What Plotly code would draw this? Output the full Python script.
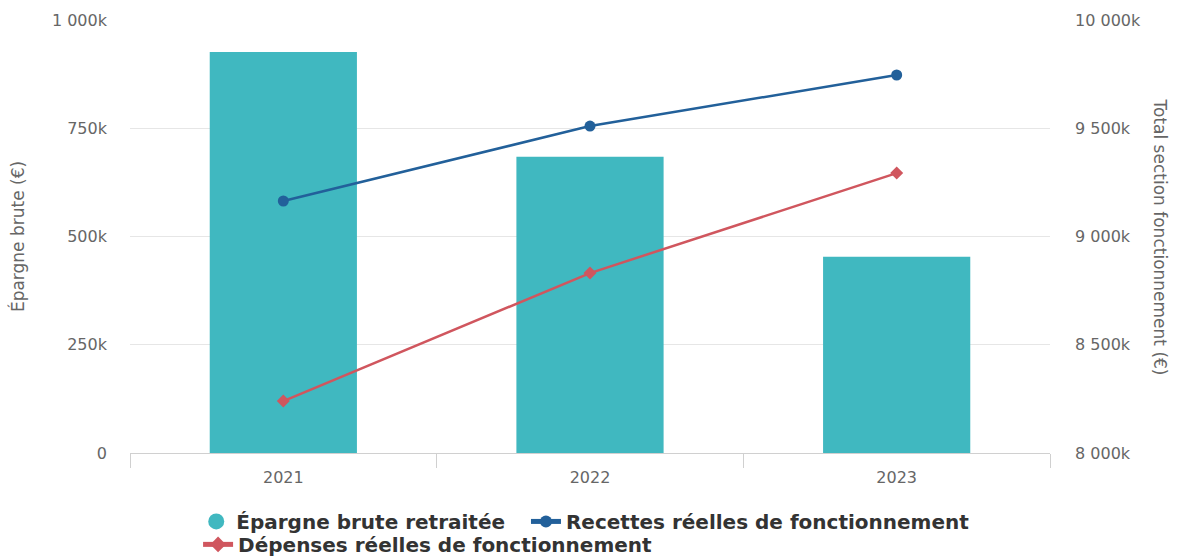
import plotly.graph_objects as go

years = ["2021", "2022", "2023"]
epargne = [926000, 684000, 453000]
recettes = [9164000, 9510000, 9746000]
depenses = [8240000, 8831000, 9293000]

left_tickvals = [0, 250000, 500000, 750000, 1000000]
left_ticktext = ["0", "250k", "500k", "750k", "1 000k"]
right_tickvals = [8000000, 8500000, 9000000, 9500000, 10000000]
right_ticktext = ["8 000k", "8 500k", "9 000k", "9 500k", "10 000k"]

teal = "#40b8c0"
blue = "#22609a"
red = "#d0565e"
grey_txt = "#666666"
legend_font = dict(family="DejaVu Sans", size=20, color="#333333", weight="bold")

fig = go.Figure()
fig.add_trace(go.Bar(x=years, y=epargne, name="Épargne brute retraitée",
                     marker=dict(color=teal, line=dict(width=0)),
                     showlegend=False, yaxis="y"))
fig.add_trace(go.Scatter(x=[None], y=[None], name="Épargne brute retraitée",
                         mode="markers", marker=dict(color=teal, size=17, symbol="circle"),
                         yaxis="y", legend="legend"))
fig.add_trace(go.Scatter(x=years, y=recettes, name="Recettes réelles de fonctionnement",
                         mode="lines+markers", line=dict(color=blue, width=2.5),
                         marker=dict(color=blue, size=11, symbol="circle"), yaxis="y2",
                         legend="legend3"))
fig.add_trace(go.Scatter(x=years, y=depenses, name="Dépenses réelles de fonctionnement",
                         mode="lines+markers", line=dict(color=red, width=2.5),
                         marker=dict(color=red, size=10, symbol="diamond"), yaxis="y2",
                         legend="legend2"))

row1_y = -0.113
row2_y = -0.166
common_leg = dict(orientation="h", xanchor="left", yanchor="top", font=legend_font,
                  itemwidth=30, bgcolor="rgba(0,0,0,0)")

fig.update_layout(
    width=1182, height=558,
    margin=dict(l=130, r=132, t=20, b=105, autoexpand=False),
    paper_bgcolor="white", plot_bgcolor="white",
    font=dict(family="DejaVu Sans", color=grey_txt, size=16),
    bargap=0.52,
    xaxis=dict(type="category", tickson="boundaries", ticks="outside", ticklen=14,
               tickcolor="#d0d0d0", showline=True, linecolor="#d0d0d0", linewidth=1,
               showgrid=False, ticklabelstandoff=10,
               tickfont=dict(size=16, color=grey_txt)),
    yaxis=dict(range=[0, 1000000], tickvals=left_tickvals, ticktext=left_ticktext,
               showgrid=True, gridcolor="#e6e6e6", zeroline=False,
               ticks="", ticklabelstandoff=22, tickfont=dict(size=16),
               title=dict(text="Épargne brute (€)", font=dict(size=17, color=grey_txt), standoff=22)),
    yaxis2=dict(range=[8000000, 10000000], tickvals=right_tickvals, ticktext=right_ticktext,
                overlaying="y", side="right", showgrid=False, zeroline=False,
                ticks="", ticklabelstandoff=24, tickfont=dict(size=16)),
    legend=dict(x=0.072, y=row1_y, itemsizing="trace", **common_leg),
    legend3=dict(x=0.4304, y=row1_y, itemsizing="constant", **common_leg),
    legend2=dict(x=0.074, y=row2_y, itemsizing="constant", **common_leg),
    annotations=[dict(text="Total section fonctionnement (€)", xref="paper", yref="paper",
                      x=1, xshift=122, y=0.5, textangle=90, showarrow=False,
                      font=dict(size=17, color=grey_txt))],
)

fig.write_html("out.html")
